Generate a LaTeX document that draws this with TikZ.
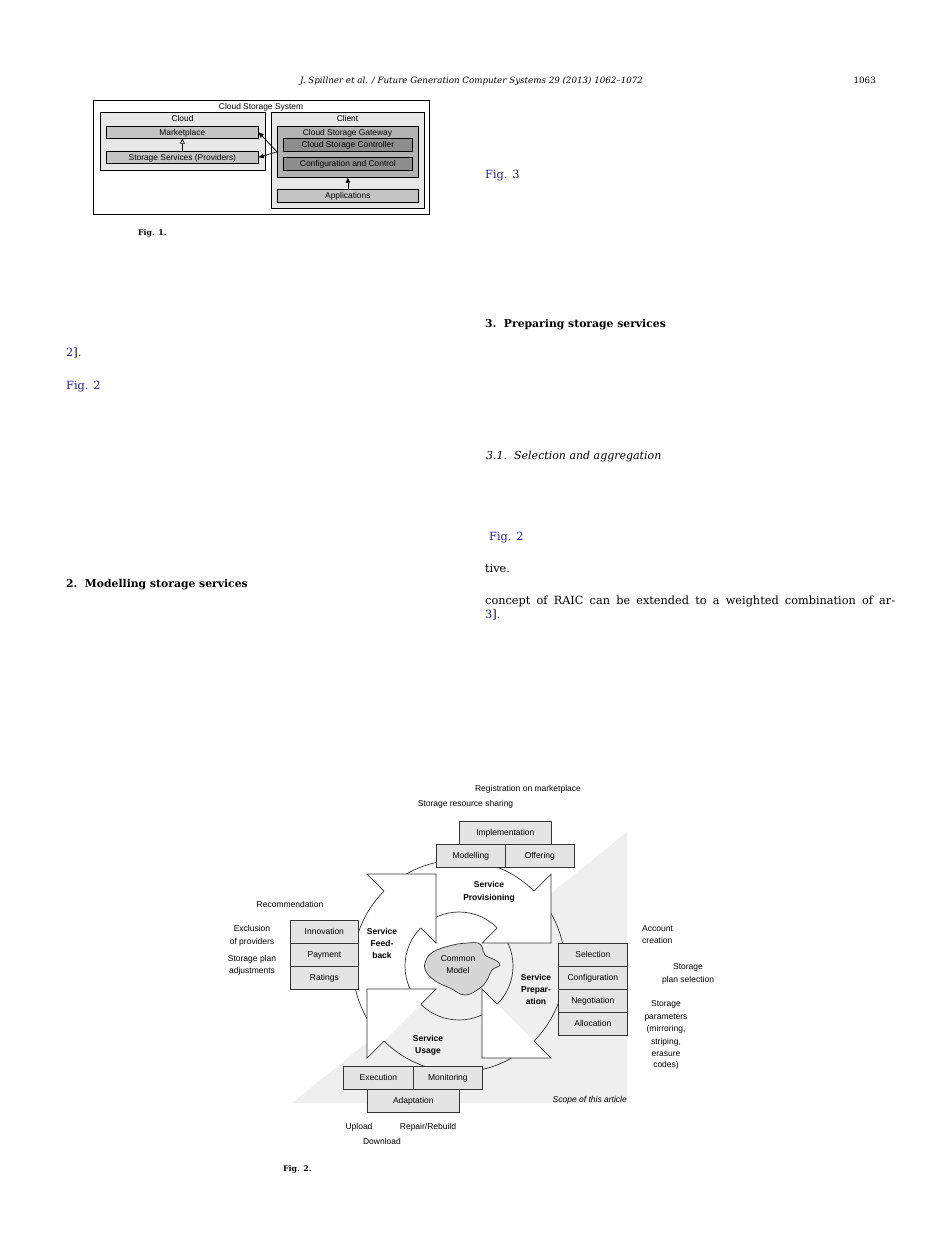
\documentclass[tikz,border=0pt]{standalone}
\usepackage{fontspec}
\setmainfont{DejaVu Serif}
\newfontfamily\arialf{Liberation Sans}
\usetikzlibrary{arrows.meta}
\definecolor{linkblue}{RGB}{35,35,140}
\definecolor{boxgrey}{RGB}{228,228,228}
\definecolor{scopegrey}{RGB}{239,239,239}
\definecolor{fonelight}{RGB}{232,232,232}
\definecolor{fonemid}{RGB}{196,196,196}
\definecolor{fonegw}{RGB}{178,178,178}
\definecolor{fonedark}{RGB}{142,142,142}
\definecolor{blobgrey}{RGB}{214,214,214}
\tikzset{
  pg/.style={inner sep=0, anchor=base west, font=\fontsize{11.3}{13}\selectfont},
  pgbold/.style={pg, font=\bfseries\fontsize{10.8}{12}\selectfont},
  pgit/.style={pg, font=\itshape\fontsize{11}{13}\selectfont},
  lnk/.style={text=linkblue},
  figcap/.style={inner sep=0, anchor=base west, font=\bfseries\fontsize{7.8}{9}\selectfont},
  fonebox/.style={draw=black, line width=0.7, inner sep=0, anchor=north west,
    font=\arialf\fontsize{8.4}{9}\selectfont, text height=6pt, text depth=0pt},
  fonet/.style={inner sep=0, font=\arialf\fontsize{8.4}{9}\selectfont, text height=6pt, text depth=0pt},
  ftwobox/.style={draw=black!80, fill=boxgrey, line width=0.7, inner sep=0, anchor=north west,
    font=\arialf\fontsize{8.5}{10}\selectfont, text height=6.1pt, text depth=0pt},
  ftwo/.style={inner sep=0, font=\arialf\fontsize{8.5}{10}\selectfont, text height=6.1pt, text depth=0pt},
  ftwob/.style={ftwo, font=\arialf\bfseries\fontsize{8.5}{10}\selectfont},
  ftwoi/.style={ftwo, font=\arialf\itshape\fontsize{8.5}{10}\selectfont},
  cyc/.style={draw=black!80, line width=0.7},
  headfill/.style={fill=white},
  fonearr/.style={line width=0.7, -{Triangle[length=5pt,width=4.5pt]}},
  fonearropen/.style={line width=0.7, -{Triangle[open,length=5pt,width=5pt]}}
}
\begin{document}
\begin{tikzpicture}[x=1pt,y=-1pt]
\useasboundingbox (0,0) rectangle (925,1234);
\fill[white] (0,0) rectangle (925,1234);

% ---------- running head ----------
\node[inner sep=0, anchor=base, font=\itshape\fontsize{8.7}{10}\selectfont] (runhead) at (471.5,83)
  {J. Spillner et al. / Future Generation Computer Systems 29 (2013) 1062--1072};
\node[inner sep=0, anchor=base east, font=\fontsize{8.7}{10}\selectfont] (pagenum) at (876,83) {1063};

% ---------- page text fragments ----------
\node[pg] (refa) at (66,356) {{\color{linkblue}2}].};
\node[pg, lnk] (figrefa) at (66,389) {Fig. 2};
\node[pgbold] (secb) at (66,587) {2.\ \ Modelling storage services};
\node[pg, lnk] (figrefc) at (485,178) {Fig. 3};
\node[pgbold] (secc) at (485,327) {3.\ \ Preparing storage services};
\node[pgit] (subsec) at (486,459) {3.1.\ \ Selection and aggregation};
\node[pg, lnk] (figrefb) at (489,540) {Fig. 2};
\node[pg] (tive) at (485,572) {tive.};
\node[pg] (raic) at (485,604) {\makebox[410pt][s]{concept of RAIC can be extended to a weighted combination of ar-}};
\node[pg] (refb) at (485,618) {{\color{linkblue}3}].};

% ---------- Fig. 1 ----------
\node[fonebox, fill=white, minimum width=336, minimum height=114] (sys) at (93,100) {};
\node[fonet] (systitle) at (261,106.5) {Cloud Storage System};
\node[fonebox, fill=fonelight, minimum width=165, minimum height=58] (cloud) at (100,112) {};
\node[fonet] (cloudtitle) at (182.5,118.5) {Cloud};
\node[fonebox, fill=fonemid, minimum width=152, minimum height=12] (market) at (106,126) {Marketplace};
\node[fonebox, fill=fonemid, minimum width=152, minimum height=12] (stor) at (106,151) {Storage Services (Providers)};
\node[fonebox, fill=fonelight, minimum width=153, minimum height=96] (client) at (271,112) {};
\node[fonet] (clienttitle) at (347.5,118.5) {Client};
\node[fonebox, fill=fonegw, minimum width=141, minimum height=51] (gw) at (277,126) {};
\node[fonet] (gwtitle) at (347.5,132) {Cloud Storage Gateway};
\node[fonebox, fill=fonedark, minimum width=129, minimum height=13] (ctrl) at (283,138) {Cloud Storage Controller};
\node[fonebox, fill=fonedark, minimum width=129, minimum height=13] (conf) at (283,157) {Configuration and Control};
\node[fonebox, fill=fonemid, minimum width=141, minimum height=13] (apps) at (277,189) {Applications};
\draw[fonearropen] (stor.north) -- (market.south);
\draw[fonearr] (apps.north) -- (gw.south);
\draw[fonearr] (gw.west) -- (market.east);
\draw[fonearr] (gw.west) -- (stor.east);
\node[figcap] (capa) at (138,235) {Fig. 1.};

% ---------- Fig. 2 ----------
\fill[scopegrey] (292,1103) -- (627,1103) -- (627,832) -- cycle;
\coordinate (C) at (459,966);
\draw[cyc] (C) circle (106);
\draw[cyc] (C) circle (54);
% arrow heads (Feedback, Provisioning, Preparation, Usage)
\fill[headfill] (367,874) -- (436,874) -- (436,943) -- cycle;
\draw[cyc] (384,891) -- (367,874) -- (436,874) -- (436,943) -- (421,928);
\fill[headfill] (551,874) -- (551,943) -- (482,943) -- cycle;
\draw[cyc] (534,891) -- (551,874) -- (551,943) -- (482,943) -- (497,928);
\fill[headfill] (551,1058) -- (482,1058) -- (482,989) -- cycle;
\draw[cyc] (534,1041) -- (551,1058) -- (482,1058) -- (482,989) -- (497,1004);
\fill[headfill] (367,1058) -- (367,989) -- (436,989) -- cycle;
\draw[cyc] (384,1041) -- (367,1058) -- (367,989) -- (436,989) -- (421,1004);
% common model blob
\draw[cyc, fill=blobgrey] plot[smooth cycle, tension=0.7] coordinates {
  (453,945) (468,943) (478,943) (482,947) (485,955) (495,960) (500,965) (492,970)
  (487,980) (480,988) (465,995) (450,988) (437,982) (427,973) (425,963) (433,952)};
\node[ftwo] (cm1) at (458,958) {Common};
\node[ftwo] (cm2) at (458,970) {Model};

% boxes
\node[ftwobox, minimum width=92, minimum height=23] (impl) at (459,821) {Implementation};
\node[ftwobox, minimum width=69, minimum height=23] (model) at (436,844) {Modelling};
\node[ftwobox, minimum width=69, minimum height=23] (offer) at (505,844) {Offering};
\node[ftwobox, minimum width=68, minimum height=23] (innov) at (290,920) {Innovation};
\node[ftwobox, minimum width=68, minimum height=23] (pay) at (290,943) {Payment};
\node[ftwobox, minimum width=68, minimum height=23] (rate) at (290,966) {Ratings};
\node[ftwobox, minimum width=69, minimum height=23] (selb) at (558,943) {Selection};
\node[ftwobox, minimum width=69, minimum height=23] (confb) at (558,966) {Configuration};
\node[ftwobox, minimum width=69, minimum height=23] (nego) at (558,989) {Negotiation};
\node[ftwobox, minimum width=69, minimum height=23] (alloc) at (558,1012) {Allocation};
\node[ftwobox, minimum width=70, minimum height=23] (exec) at (343,1066) {Execution};
\node[ftwobox, minimum width=69, minimum height=23] (monit) at (413,1066) {Monitoring};
\node[ftwobox, minimum width=92, minimum height=23] (adapt) at (367,1089) {Adaptation};

% phase labels
\node[ftwob] (prov1) at (489,884) {Service};
\node[ftwob] (prov2) at (489,897) {Provisioning};
\node[ftwob] (feed1) at (382,931) {Service};
\node[ftwob] (feed2) at (382,943) {Feed-};
\node[ftwob] (feed3) at (382,955) {back};
\node[ftwob] (prep1) at (536,977) {Service};
\node[ftwob] (prep2) at (536,989) {Prepar-};
\node[ftwob] (prep3) at (536,1001) {ation};
\node[ftwob] (use1) at (428,1038) {Service};
\node[ftwob] (use2) at (428,1050) {Usage};

% annotations
\node[ftwo] (regi) at (528,788) {Registration on marketplace};
\node[ftwo] (share) at (465.5,803) {Storage resource sharing};
\node[ftwo] (recom) at (290,904) {Recommendation};
\node[ftwo] (excl1) at (252,928) {Exclusion};
\node[ftwo] (excl2) at (252,941) {of providers};
\node[ftwo] (adj1) at (252,958) {Storage plan};
\node[ftwo] (adj2) at (252,970) {adjustments};
\node[ftwo, anchor=west] (acc1) at (642,928) {Account};
\node[ftwo, anchor=west] (acc2) at (642,940) {creation};
\node[ftwo] (psel1) at (688,966) {Storage};
\node[ftwo] (psel2) at (688,979) {plan selection};
\node[ftwo] (par1) at (666,1003) {Storage};
\node[ftwo] (par2) at (666,1016) {parameters};
\node[ftwo] (par3) at (666,1028) {(mirroring,};
\node[ftwo] (par4) at (666,1041) {striping,};
\node[ftwo] (par5) at (666,1053) {erasure};
\node[ftwo] (par6) at (666,1064) {codes)};
\node[ftwoi, anchor=east] (scope) at (627,1099) {Scope of this article};
\node[ftwo] (upl) at (359,1126) {Upload};
\node[ftwo] (rep) at (428,1126) {Repair/Rebuild};
\node[ftwo] (dwn) at (382,1141) {Download};
\node[figcap] (capb) at (283,1171) {Fig. 2.};
\end{tikzpicture}
\end{document}
